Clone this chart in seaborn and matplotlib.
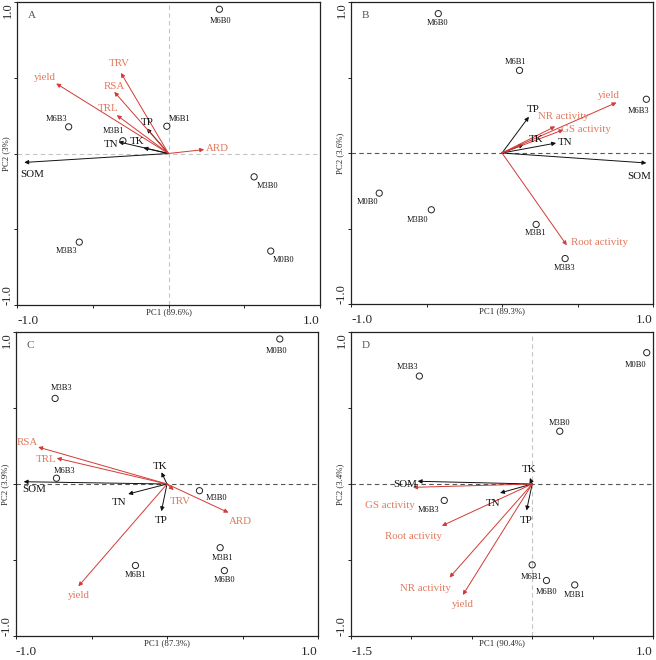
"""PCA biplots of soil / plant variables, four panels (A-D)."""
import matplotlib
matplotlib.use("Agg")
import matplotlib.pyplot as plt
import seaborn as sns
import pandas as pd

sns.set_theme(style="ticks")
plt.rcParams["font.family"] = ["Liberation Serif", "DejaVu Serif"]

RED = "#d33a35"
RED_TXT = "#e2785c"
W, H = 656, 660

# ---- data ----
samples = ["M0B0", "M3B0", "M3B1", "M3B3", "M6B0", "M6B1", "M6B3"]

A_pc1 = [0.675, 0.565, -0.301, -0.589, 0.336, -0.011, -0.659]
A_pc2 = [-0.644, -0.154, 0.084, -0.585, 0.952, 0.180, 0.176]
A_vars = ["SOM", "TN", "TK", "TP", "TRL", "RSA", "TRV", "yield", "ARD"]
A_ld1 = [-0.952, -0.330, -0.165, -0.143, -0.341, -0.358, -0.314, -0.741, 0.235]
A_ld2 = [-0.059, 0.077, 0.037, 0.165, 0.253, 0.407, 0.532, 0.462, 0.026]

B_pc1 = [-0.813, -0.468, 0.226, 0.418, -0.422, 0.116, 0.956]
B_pc2 = [-0.266, -0.376, -0.473, -0.699, 0.923, 0.547, 0.356]
B_vars = ["SOM", "TN", "TK", "TP", "NR activity", "GS activity", "yield", "Root activity"]
B_ld1 = [0.956, 0.358, 0.143, 0.178, 0.352, 0.407, 0.758, 0.429]
B_ld2 = [-0.066, 0.066, 0.055, 0.240, 0.176, 0.154, 0.334, -0.611]

C_pc1 = [0.747, 0.215, 0.352, -0.741, 0.380, -0.209, -0.732]
C_pc2 = [0.954, -0.044, -0.419, 0.563, -0.570, -0.536, 0.038]
C_vars = ["SOM", "TN", "TK", "TP", "RSA", "TRL", "TRV", "ARD", "yield"]
C_ld1 = [-0.949, -0.257, -0.037, -0.037, -0.853, -0.730, 0.044, 0.407, -0.587]
C_ld2 = [0.015, -0.066, 0.077, -0.179, 0.243, 0.170, -0.040, -0.188, -0.673]

D_pc1 = [0.948, 0.228, 0.352, -0.934, 0.118, 0.0, -0.728]
D_pc2 = [0.864, 0.347, -0.664, 0.710, -0.635, -0.532, -0.108]
D_vars = ["SOM", "TN", "TK", "TP", "GS activity", "Root activity", "NR activity", "yield"]
D_ld1 = [-0.948, -0.266, -0.019, -0.047, -0.986, -0.747, -0.684, -0.574]
D_ld2 = [0.018, -0.059, 0.040, -0.174, -0.022, -0.275, -0.615, -0.730]

SOIL = {"SOM", "TN", "TK", "TP"}

# ---- label offsets (pixels) ----
A_pt_off = {"M0B0": (13, -9), "M3B0": (13, -9), "M3B1": (-9, 10), "M3B3": (-13, -9),
            "M6B0": (1, -12), "M6B1": (13, 7), "M6B3": (-12, 8)}
A_ar_off = {"SOM": (8, -12), "TN": (-8, -3), "TK": (-7, 6), "TP": (0, 6), "TRL": (-9, 7),
            "RSA": (0, 5), "TRV": (-2, 9), "yield": (-11, 6), "ARD": (13, 1)}
B_pt_off = {"M0B0": (-12, -9), "M3B0": (-14, -10), "M3B1": (-1, -9), "M3B3": (-1, -9),
            "M6B0": (-1, -9), "M6B1": (-4, 8), "M6B3": (-8, -12)}
B_ar_off = {"SOM": (-7, -14), "TN": (9, 1), "TK": (12, 5), "TP": (4, 7),
            "NR activity": (8, 10), "GS activity": (22, 0), "yield": (-8, 7),
            "Root activity": (33, 3)}
C_pt_off = {"M0B0": (-3, -12), "M3B0": (17, -7), "M3B1": (2, -10), "M3B3": (6, 10),
            "M6B0": (0, -9), "M6B1": (0, -10), "M6B3": (8, 7)}
C_ar_off = {"SOM": (10, -8), "TN": (-9, -8), "TK": (-1, 6), "TP": (0, -9), "RSA": (-11, 5),
            "TRL": (-11, -1), "TRV": (7, -11), "ARD": (12, -9), "yield": (0, -9)}
D_pt_off = {"M0B0": (-11, -12), "M3B0": (0, 8), "M3B1": (0, -10), "M3B3": (-12, 9),
            "M6B0": (0, -11), "M6B1": (-1, -12), "M6B3": (-16, -10)}
D_ar_off = {"SOM": (-12, -3), "TN": (-7, -11), "TK": (-1, 8), "TP": (0, -10),
            "GS activity": (-23, -18), "Root activity": (-28, -11),
            "NR activity": (-24, -11), "yield": (0, -10)}


def biplot(rect, letter, pc1, pc2, vars_, ld1, ld2, pt_off, ar_off,
           xlab, ylab, xlim=(-1.0, 1.0), vline=True, hdark=True):
    l, t, r, b = rect
    ax = fig.add_axes([l / W, 1 - b / H, (r - l) / W, (b - t) / H])
    ax.set_xlim(*xlim)
    ax.set_ylim(-1.0, 1.0)

    ax.axhline(0, ls=(0, (4, 3)), lw=0.8, color="#555555" if hdark else "#c4c4c4", zorder=0)
    if vline:
        ax.axvline(0, ls=(0, (4, 3)), lw=0.8, color="#c4c4c4", zorder=0)

    df = pd.DataFrame({"sample": samples, "pc1": pc1, "pc2": pc2})
    sns.scatterplot(data=df, x="pc1", y="pc2", ax=ax, s=20, marker="o",
                    facecolor="none", edgecolor="#222222", linewidth=0.7, zorder=3)
    for s, x, y in zip(df["sample"], df["pc1"], df["pc2"]):
        ax.annotate(s, (x, y), xytext=pt_off[s], textcoords="offset pixels",
                    ha="center", va="center", fontsize=6.0, color="#111111")

    for v, x, y in zip(vars_, ld1, ld2):
        soil = v in SOIL
        ax.annotate("", xy=(x, y), xytext=(0, 0),
                    arrowprops=dict(arrowstyle="-|>", color="#111111" if soil else RED,
                                    lw=0.7, mutation_scale=6, shrinkA=0, shrinkB=0),
                    zorder=2)
        ax.annotate(v, (x, y), xytext=ar_off[v], textcoords="offset pixels",
                    ha="center", va="center", fontsize=7.8,
                    color="#111111" if soil else RED_TXT)

    ax.text(0.035, 0.955, letter, transform=ax.transAxes, fontsize=8,
            color="#555555", ha="left", va="center")

    x0, x1 = xlim
    xt = [x0 + i * 0.5 for i in range(int(round((x1 - x0) / 0.5)) + 1)]
    ax.set_xticks(xt)
    ax.set_xticklabels([f"{x0:.1f}"] + [""] * (len(xt) - 2) + [f"{x1:.1f}"])
    ax.set_yticks([-1.0, -0.5, 0, 0.5, 1.0])
    ax.set_yticklabels(["-1.0", "", "", "", "1.0"])
    ax.tick_params(axis="both", length=2, width=0.7, labelsize=9.5, color="#222222")
    ax.tick_params(axis="x", pad=5)
    ax.tick_params(axis="y", pad=0.5, labelrotation=90, labelsize=9)
    xl = ax.get_xticklabels()
    xl[0].set_ha("left")
    xl[-1].set_ha("right")
    yl = ax.get_yticklabels()
    yl[0].set_va("bottom")
    yl[-1].set_va("top")

    ax.set_xlabel(xlab, fontsize=6.3)
    ax.xaxis.set_label_coords(0.5, -0.012)
    ax.set_ylabel(ylab, fontsize=6.3)
    ax.yaxis.set_label_coords(-0.022, 0.5)
    for sp in ax.spines.values():
        sp.set_linewidth(0.9)
        sp.set_color("#222222")
    return ax


fig = plt.figure(figsize=(W / 100, H / 100), dpi=100)

biplot((17, 2, 320, 305), "A", A_pc1, A_pc2, A_vars, A_ld1, A_ld2, A_pt_off, A_ar_off,
       "PC1 (89.6%)", "PC2 (3%)", hdark=False)
biplot((351, 2, 653, 304), "B", B_pc1, B_pc2, B_vars, B_ld1, B_ld2, B_pt_off, B_ar_off,
       "PC1 (89.3%)", "PC2 (3.6%)", vline=False)
biplot((16, 332, 318, 636), "C", C_pc1, C_pc2, C_vars, C_ld1, C_ld2, C_pt_off, C_ar_off,
       "PC1 (87.3%)", "PC2 (3.9%)", vline=False)
biplot((351, 332, 653, 636), "D", D_pc1, D_pc2, D_vars, D_ld1, D_ld2, D_pt_off, D_ar_off,
       "PC1 (90.4%)", "PC2 (3.4%)", xlim=(-1.5, 1.0))

fig.savefig("out.png", dpi=100)
